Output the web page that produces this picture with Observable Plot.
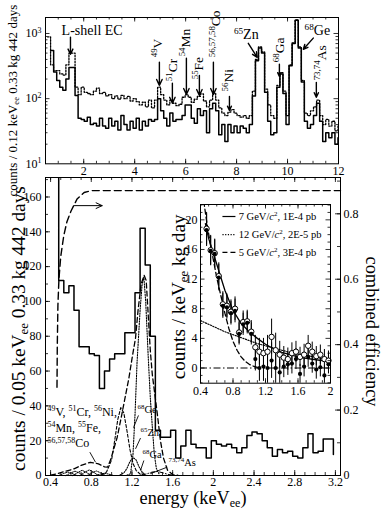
<!DOCTYPE html>
<html><head><meta charset="utf-8">
<script src="https://cdn.jsdelivr.net/npm/d3@7"></script>
<script src="https://cdn.jsdelivr.net/npm/@observablehq/plot@0.6"></script>
<style>
body{margin:0;background:#fff;}
#chart{position:relative;width:382px;height:511px;overflow:hidden;background:#fff;}
#chart svg{position:absolute;left:0;top:0;background:transparent !important;overflow:visible;font-family:"Liberation Serif","DejaVu Serif",serif !important;font-size:12px;}
#chart svg g, #chart svg text{font-family:"Liberation Serif","DejaVu Serif",serif !important;}
</style>
</head><body><div id="chart"></div>
<script>
// ================= DATA =================
// --- top panel: two spectra, 0.12 keV bins ---
const topSolidStart = 0.70;
const topDottedStart = 0.58;
const topBinWidth = 0.12;
const topSolidCounts = [550,257,190,150,135,200,300,300,112,50,
 48,45,52,40,42,38,50,38,35,50,
 38,45,33,55,40,33,45,35,50,33,
 45,38,48,45,48,100,65,50,38,60,
 45,48,48,55,80,80,50,42,70,55,
 65,30,70,85,65,28,40,22,40,30,
 38,30,38,35,30,40,110,380,600,500,
 125,45,28,30,150,240,120,40,320,700,
 1600,600,180,45,35,40,55,85,45,22,
 30,25,30,20,25];
const topDottedCounts = [890,330,270,270,240,230,330,500,500,150,
 115,150,125,120,115,130,145,120,125,110,
 115,100,110,98,112,100,108,92,100,90,
 80,88,75,95,72,95,150,115,95,80,
 95,85,78,82,105,115,105,88,98,108,
 118,92,75,95,120,95,72,60,55,62,
 68,60,55,52,55,50,55,130,400,620,
 520,140,80,55,50,160,250,130,55,330,
 720,1620,620,190,60,55,65,75,95,55,
 40,48,38,45,32,38];
const topXTicks = [2,4,6,8,10,12];
const topYTicks = [10,100,1000];
const topArrows = [
 {x1:1.48,y1:880,x2:1.48,y2:480},
 {x1:4.97,y1:362,x2:4.97,y2:160},
 {x1:5.48,y1:172,x2:5.48,y2:85},
 {x1:6.03,y1:417,x2:6.03,y2:116},
 {x1:6.54,y1:228,x2:6.54,y2:112},
 {x1:7.09,y1:362,x2:7.09,y2:116},
 {x1:7.72,y1:108,x2:7.72,y2:66},
 {x1:8.46,y1:708,x2:8.81,y2:431},
 {x1:9.68,y1:338,x2:9.68,y2:220},
 {x1:11.01,y1:850,x2:10.62,y2:572},
 {x1:11.13,y1:178,x2:11.13,y2:105}
];
const topRotLabels = [
 {t:"^{49}V", x:4.89, y:431},
 {t:"^{51}Cr", x:5.48, y:185},
 {t:"^{54}Mn", x:5.99, y:446},
 {t:"^{55}Fe", x:6.50, y:198},
 {t:"^{56,57,58}Co", x:7.17, y:431},
 {t:"^{56}Ni", x:7.68, y:129},
 {t:"^{68}Ga", x:9.68, y:362},
 {t:"^{73,74}As", x:11.32, y:191}
];
const topFlatLabels = [
 {t:"L-shell EC", x:2.33, y:942},
 {t:"^{65}Zn", x:8.38, y:817},
 {t:"^{68}Ge", x:11.17, y:942}
];

// --- bottom panel: 0.05 keV bins ---
const botStart = 0.43;
const botBinWidth = 0.05;
const botCounts = [400,112,105,109,95,74,74,70,69,50,
 60,67,70,70,82,82,105,142,121,80,
 26,22,22,26,10,17,26,18,16,16,
 10,20,18,17,18,16,13,16,23,25,
 24,20,16,11,15,13,14,11,10,16,
 24,13,14,21,21];
const botTailCount = 12;
const fitTotal = [[0.40,0.2],[0.465,1.0],[0.55,2.5],[0.63,3.8],[0.70,5.8],[0.79,7.6],[0.87,6.7],[0.93,5.0],[0.96,4.8],[0.99,9],[1.02,15],[1.055,22],[1.10,35],[1.14,47],[1.17,56],[1.20,67],[1.235,79],[1.26,95],[1.29,110],[1.32,115],[1.34,112],[1.36,92],[1.38,72],[1.40,58],[1.45,35],[1.48,20],[1.51,10],[1.55,3],[1.60,0.5],[1.65,0.2]];
const fitZn = [[0.90,0.3],[0.95,2],[1.00,9],[1.03,20],[1.06,32],[1.09,39],[1.12,36],[1.15,26],[1.18,15],[1.21,7],[1.24,3],[1.28,0.8],[1.32,0.2]];
const fitGe = [[1.15,0.2],[1.186,1],[1.21,12],[1.23,35],[1.25,65],[1.28,95],[1.30,110],[1.317,114],[1.335,100],[1.36,68],[1.38,45],[1.40,28],[1.42,12],[1.44,4],[1.47,0.5]];
const fitGa = [[1.08,0.2],[1.12,1.5],[1.15,4],[1.18,8],[1.21,10.3],[1.24,9],[1.27,5],[1.30,2],[1.33,0.5]];
const fitAs = [[1.30,0.2],[1.36,1.2],[1.40,2],[1.45,2.3],[1.50,1.6],[1.55,0.7],[1.60,0.2]];
const lowV  = [[0.48,0],[0.53,1.2],[0.57,2],[0.61,1.2],[0.66,0]];
const lowCr = [[0.55,0],[0.60,1.5],[0.64,2.5],[0.68,1.5],[0.73,0]];
const lowMn = [[0.62,0],[0.67,1.8],[0.71,3],[0.75,1.8],[0.80,0]];
const lowFe = [[0.69,0],[0.74,2],[0.78,3.2],[0.82,2],[0.87,0]];
const lowCo = [[0.76,0],[0.81,1.6],[0.85,2.6],[0.89,1.6],[0.94,0]];
const lowNi = [[0.84,0],[0.89,0.8],[0.93,1.3],[0.97,0.8],[1.02,0]];
const effCurve = [[0.463,0.27],[0.466,0.40],[0.472,0.52],[0.482,0.60],[0.50,0.67],[0.53,0.734],[0.56,0.775],[0.60,0.808],[0.66,0.845],[0.73,0.865],[0.80,0.871],[3.25,0.871]];
const effArrow = [{x1:0.628, y1:0.825, x2:0.907, y2:0.825}];
const botXTicks = [0.4,0.8,1.2,1.6,2,2.4,2.8,3.2];
const botYTicks = [0,20,40,60,80,100,120,140,160];
const effTicks = [0,0.2,0.4,0.6,0.8];
const botGroupLabels = [
 {t:"^{49}V, ^{51}Cr, ^{56}Ni,", x:0.37, y:34.4},
 {t:"^{54}Mn, ^{55}Fe,", x:0.37, y:25.2},
 {t:"^{56,57,58}Co", x:0.37, y:16.1}
];
const botPeakLabels = [
 {t:"^{68}Ge", x:1.255, y:36.1},
 {t:"^{65}Zn", x:1.284, y:22.9},
 {t:"^{68}Ga", x:1.304, y:10.3},
 {t:"^{73,74}As", x:1.56, y:5.2}
];
const botLeaders = [
 {x1:0.786,y1:13.4,x2:0.842,y2:7.6},
 {x1:1.264,y1:34.5,x2:1.215,y2:27.5},
 {x1:1.284,y1:21.5,x2:1.235,y2:15.3},
 {x1:1.317,y1:8.6,x2:1.284,y2:2.9},
 {x1:1.546,y1:4.8,x2:1.38,y2:1.0}
];

// --- inset ---
const insetStart = 0.475;
const insetBinWidth = 0.05;
const insetFilled = [18.6,15.8,15.4,12.2,8.4,8.2,7.4,7.7,4.6,5.9,6.1,4.6,1.2,0.0,0.2,0.0,1.0,0.0,-0.6,0.2,0.5,0.6,1.2,-0.8,0.2,1.5,0.6,-0.2,0.1,-1.0,0.5];
const insetFilledErr = [2.2,2.0,1.9,1.8,1.7,1.6,1.6,1.6,1.5,1.5,1.5,1.5,1.6,1.8,2.0,2.2,2.4,2.3,1.8,1.5,1.5,1.4,1.4,1.3,1.4,1.4,1.3,1.3,1.3,1.3,1.3];
const insetOpen = [18.8,15.9,15.5,12.4,8.6,8.4,7.6,8.0,4.8,6.2,6.3,4.9,2.8,2.2,2.0,2.2,4.2,2.4,1.8,1.4,1.2,2.0,2.2,1.5,1.8,3.0,2.2,1.6,1.8,1.2,1.0];
const insetOpenErr = [2.2,2.0,1.9,1.8,1.7,1.6,1.6,1.6,1.5,1.5,1.5,1.5,1.6,1.8,2.0,2.2,2.4,2.3,1.8,1.5,1.5,1.4,1.4,1.3,1.4,1.4,1.3,1.3,1.3,1.3,1.3];
const wimp7 = [[0.46,19.5],[0.5,17.5],[0.6,14],[0.7,10.5],[0.8,7.8],[0.9,6.0],[1.0,4.9],[1.1,4.0],[1.2,3.2],[1.3,2.6],[1.4,2.1],[1.5,1.8],[1.6,1.5],[1.7,1.3],[1.8,1.15],[1.9,1.0],[2.0,0.9]];
const wimp12 = [[0.4,6.4],[0.5,5.9],[0.6,5.4],[0.7,4.9],[0.8,4.5],[0.9,4.1],[1.0,3.7],[1.1,3.3],[1.2,3.0],[1.3,2.7],[1.4,2.4],[1.5,2.1],[1.6,1.9],[1.7,1.7],[1.8,1.5],[1.9,1.3],[2.0,1.2]];
const wimp5 = [[0.44,22.5],[0.48,19.5],[0.52,16.8],[0.56,14.5],[0.60,12.2],[0.65,9.8],[0.70,7.4],[0.75,5.3],[0.80,3.6],[0.85,2.4],[0.90,1.5],[0.95,0.9],[1.0,0.5],[1.05,0.25],[1.10,0.1]];
const legendLabels = ["7 GeV/*{c}^{2}, 1E-4 pb", "12 GeV/*{c}^{2}, 2E-5 pb", "5 GeV/*{c}^{2}, 3E-4 pb"];
const legendY = [20.45, 18.0, 15.6];
const insetXTicks = [0.4,0.8,1.2,1.6,2];
const insetYTicks = [0,4,8,12,16,20];

// axis titles and the length (px) each spans in the figure
const titleTopY = "counts / 0.12 keV_{ee} 0.33 kg 442 days";
const titleBotY = "counts / 0.05 keV_{ee} 0.33 kg 442 days";
const titleX = "energy (keV_{ee})";
const titleEff = "combined efficiency";
const titleInsetY = "counts / keV_{ee} kg day";
const titleSpans = [[titleTopY, 192], [titleBotY, 285], [titleX, 107], [titleEff, 150], [titleInsetY, 165]];

// ================= DRAWING =================
const W = 382, H = 511;
const fmt = d3.format("~g");
const svgStyle = `background:transparent;`;

function histPoints(start, width, counts, tail) {
  const pts = counts.map((c, i) => ({x: start + i * width, y: c}));
  const end = start + counts.length * width;
  pts.push({x: end, y: counts[counts.length - 1]});
  if (tail !== undefined) pts.push({x: end, y: tail});
  return pts;
}
function frameTicks({fw, fh, x = [], y = [], xSides = ["bottom","top"], ySides = ["left","right"]}) {
  const m = [];
  for (const [vals, len] of x) {
    if (xSides.includes("bottom")) m.push(Plot.tickX(vals, {insetTop: fh - len, strokeWidth: 0.8}));
    if (xSides.includes("top")) m.push(Plot.tickX(vals, {insetBottom: fh - len, strokeWidth: 0.8}));
  }
  for (const [vals, len] of y) {
    if (ySides.includes("left")) m.push(Plot.tickY(vals, {insetRight: fw - len, strokeWidth: 0.8}));
    if (ySides.includes("right")) m.push(Plot.tickY(vals, {insetLeft: fw - len, strokeWidth: 0.8}));
  }
  return m;
}
const px = d => d[0], py = d => d[1];
const titleOpts = {textAnchor: "middle", lineAnchor: "middle"};

// ---- bottom main panel ----
const BOT = {ml: 45, mr: 42, mt: 177, mb: 36};
const botFW = W - BOT.ml - BOT.mr, botFH = H - BOT.mt - BOT.mb;
const lowAll = [["V",lowV],["Cr",lowCr],["Mn",lowMn],["Fe",lowFe],["Co",lowCo],["Ni",lowNi]]
  .flatMap(([n, arr]) => arr.map(([x, y]) => ({x, y, n})));
const botPlot = Plot.plot({
  width: W, height: H, marginLeft: BOT.ml, marginRight: BOT.mr, marginTop: BOT.mt, marginBottom: BOT.mb,
  style: svgStyle,
  x: {domain: [0.35, 3.25]},
  y: {domain: [0, 171.2]},
  marks: [
    Plot.line(lowAll, {x: "x", y: "y", z: "n", strokeWidth: 1, strokeDasharray: "1.2,1.2"}),
    Plot.line(fitZn, {x: px, y: py, strokeWidth: 1.1, strokeDasharray: "3,2"}),
    Plot.line(fitGa, {x: px, y: py, strokeWidth: 1.1, strokeDasharray: "1.2,1.4"}),
    Plot.line(fitAs, {x: px, y: py, strokeWidth: 1, strokeDasharray: "4,2,1,2"}),
    Plot.line(fitGe, {x: px, y: py, strokeWidth: 1.1, strokeDasharray: "1.2,1.4"}),
    Plot.line(fitTotal, {x: px, y: py, strokeWidth: 1.3, strokeDasharray: "5,3"}),
    Plot.line(histPoints(botStart, botBinWidth, botCounts, botTailCount), {x: "x", y: "y", curve: "step-after", strokeWidth: 1.5, clip: true}),
    ...frameTicks({fw: botFW, fh: botFH,
      x: [[d3.range(4, 33).map(k => k / 10), 3], [botXTicks, 5]],
      y: [[d3.range(10, 171, 10), 3], [botYTicks, 5]], ySides: ["left"]}),
    Plot.frame({strokeWidth: 1}),
    Plot.axisX(botXTicks, {anchor: "bottom", tickSize: 0, tickPadding: 1.5, tickFormat: fmt, label: null}),
    Plot.axisY(botYTicks, {anchor: "left", tickSize: 0, tickPadding: 4, tickFormat: fmt, label: null}),
    Plot.link(botLeaders, {x1: "x1", y1: "y1", x2: "x2", y2: "y2", strokeWidth: 0.9}),
    Plot.text(botGroupLabels, {x: "x", y: "y", text: "t", textAnchor: "start", lineAnchor: "bottom", fontSize: 12}),
    Plot.text(botPeakLabels, {x: "x", y: "y", text: "t", textAnchor: "start", lineAnchor: "bottom", fontSize: 10.5}),
    Plot.text([titleBotY], {...titleOpts, frameAnchor: "left", rotate: -90, dx: -27, dy: 2, fontSize: 17}),
    Plot.text([titleX], {textAnchor: "middle", lineAnchor: "bottom", frameAnchor: "bottom", dy: 28.5, fontSize: 17})
  ]
});

// ---- efficiency overlay (right axis) ----
const effPlot = Plot.plot({
  width: W, height: H, marginLeft: BOT.ml, marginRight: BOT.mr, marginTop: BOT.mt, marginBottom: BOT.mb,
  style: svgStyle,
  x: {domain: [0.35, 3.25], axis: null},
  y: {domain: [0, 0.911]},
  marks: [
    Plot.line(effCurve, {x: px, y: py, strokeWidth: 1.4, strokeDasharray: "7,4"}),
    Plot.arrow(effArrow, {x1: "x1", y1: "y1", x2: "x2", y2: "y2", strokeWidth: 1, headLength: 10, headAngle: 50}),
    ...frameTicks({fw: botFW, fh: botFH, y: [[d3.range(1, 10).map(k => k / 10), 3], [effTicks, 5]], ySides: ["right"]}),
    Plot.axisY(effTicks, {anchor: "right", tickSize: 0, tickPadding: 3, tickFormat: fmt, label: null}),
    Plot.text([titleEff], {...titleOpts, frameAnchor: "right", rotate: 90, dx: 31.5, dy: 5, fontSize: 17})
  ]
});

// ---- inset ----
const INS = {ml: 200, mr: 52, mt: 204, mb: 128.3};
const insFW = W - INS.ml - INS.mr, insFH = H - INS.mt - INS.mb;
const filledPts = insetFilled.map((v, i) => ({x: insetStart + i * insetBinWidth, y: v, e: insetFilledErr[i]}));
const openPts = insetOpen.map((v, i) => ({x: insetStart + i * insetBinWidth, y: v, e: insetOpenErr[i]}));
const legendRows = legendLabels.map((t, i) => ({t, y: legendY[i]}));
const insetPlot = Plot.plot({
  width: W, height: H, marginLeft: INS.ml, marginRight: INS.mr, marginTop: INS.mt, marginBottom: INS.mb,
  style: svgStyle,
  x: {domain: [0.4, 2]},
  y: {domain: [-2.05, 22.07]},
  marks: [
    Plot.frame({fill: "white", stroke: null}),
    Plot.ruleY([0], {strokeWidth: 1, strokeDasharray: "7,2.5,1.5,2.5"}),
    Plot.line(wimp12, {x: px, y: py, strokeWidth: 1.2, strokeDasharray: "1.2,1.5"}),
    Plot.line(wimp5, {x: px, y: py, strokeWidth: 1.3, strokeDasharray: "5,3", clip: true}),
    Plot.line(wimp7, {x: px, y: py, strokeWidth: 1.3, clip: true}),
    Plot.ruleX(openPts, {x: "x", y1: d => d.y - d.e, y2: d => d.y + d.e, strokeWidth: 1, clip: true}),
    Plot.ruleX(filledPts, {x: "x", y1: d => d.y - d.e, y2: d => d.y + d.e, strokeWidth: 1, clip: true}),
    Plot.dot(openPts, {x: "x", y: "y", r: 2.7, fill: "white", stroke: "black", strokeWidth: 1}),
    Plot.dot(filledPts, {x: "x", y: "y", r: 2.1, fill: "black", stroke: null}),
    Plot.link(legendRows.slice(0, 1), {x1: 0.67, x2: 0.83, y1: "y", y2: "y", strokeWidth: 1.2}),
    Plot.link(legendRows.slice(1, 2), {x1: 0.67, x2: 0.83, y1: "y", y2: "y", strokeWidth: 1.2, strokeDasharray: "1.2,1.5"}),
    Plot.link(legendRows.slice(2, 3), {x1: 0.67, x2: 0.83, y1: "y", y2: "y", strokeWidth: 1.2, strokeDasharray: "5,3"}),
    Plot.text(legendRows, {x: 0.87, y: "y", text: "t", textAnchor: "start", fontSize: 10.5}),
    ...frameTicks({fw: insFW, fh: insFH,
      x: [[d3.range(5, 20).map(k => k / 10), 2.5], [insetXTicks.slice(1, -1), 4.5]],
      y: [[d3.range(-2, 23).filter(k => k % 4 !== 0), 2.5], [insetYTicks, 4.5]]}),
    Plot.frame({strokeWidth: 1}),
    Plot.axisX(insetXTicks, {anchor: "bottom", tickSize: 0, tickPadding: 3, tickFormat: fmt, label: null}),
    Plot.axisY(insetYTicks, {anchor: "left", tickSize: 0, tickPadding: 3, tickFormat: fmt, label: null}),
    Plot.text([titleInsetY], {...titleOpts, frameAnchor: "left", rotate: -90, dx: -22, dy: 3, fontSize: 17})
  ]
});

// ---- top panel ----
const TOP = {ml: 45, mr: 44, mt: 17, mb: 36.7, h: 200};
const topFW = W - TOP.ml - TOP.mr, topFH = TOP.h - TOP.mt - TOP.mb;
const topMinorY = [20,30,40,50,60,70,80,90,200,300,400,500,600,700,800,900];
const topPlot = Plot.plot({
  width: W, height: TOP.h, marginLeft: TOP.ml, marginRight: TOP.mr, marginTop: TOP.mt, marginBottom: TOP.mb,
  style: svgStyle,
  x: {domain: [0.5, 12]},
  y: {type: "log", domain: [10, 1760]},
  marks: [
    Plot.line(histPoints(topDottedStart, topBinWidth, topDottedCounts), {x: "x", y: "y", curve: "step-after", strokeWidth: 1.3, strokeDasharray: "1.5,1.5", clip: true}),
    Plot.line(histPoints(topSolidStart, topBinWidth, topSolidCounts), {x: "x", y: "y", curve: "step-after", strokeWidth: 1.5, clip: true}),
    ...frameTicks({fw: topFW, fh: topFH,
      x: [[d3.range(1, 24).map(k => k / 2), 2.5], [topXTicks.slice(0, -1), 4.5]],
      y: [[topMinorY, 2.5], [topYTicks.slice(1), 4.5]]}),
    Plot.frame({strokeWidth: 1}),
    Plot.axisX(topXTicks, {anchor: "bottom", tickSize: 0, tickPadding: 3, tickFormat: fmt, label: null}),
    Plot.axisY(topYTicks, {anchor: "left", tickSize: 0, tickPadding: 4, tickFormat: d => "10^{" + Math.round(Math.log10(d)) + "}", label: null}),
    Plot.arrow(topArrows, {x1: "x1", y1: "y1", x2: "x2", y2: "y2", strokeWidth: 1.4, headLength: 7, headAngle: 50}),
    Plot.text(topRotLabels, {x: "x", y: "y", text: "t", rotate: -90, textAnchor: "start", lineAnchor: "middle", fontSize: 13.5}),
    Plot.text(topFlatLabels, {x: "x", y: "y", text: "t", textAnchor: "middle", lineAnchor: "bottom", fontSize: 14}),
    Plot.text([titleTopY], {...titleOpts, frameAnchor: "left", rotate: -90, dx: -33, dy: 10, fontSize: 12.5})
  ]
});

const chart = document.getElementById("chart");
[botPlot, effPlot, insetPlot, topPlot].forEach(s => chart.appendChild(s));

// rich text: ^{sup}, _{sub}, *{italic}; optional fit to a target span
const SUP = 0.66;
function richify(root) {
  const NS = "http://www.w3.org/2000/svg";
  const spans = new Map(titleSpans);
  root.querySelectorAll("text").forEach(t => {
    const s = t.textContent;
    const target = spans.get(s);
    if (!/[\^_*]\{/.test(s) && !target) return;
    let fs = parseFloat(getComputedStyle(t).fontSize) || 12;
    const build = () => {
      while (t.firstChild) t.removeChild(t.firstChild);
      let off = 0;
      const add = (txt, mode) => {
        if (!txt) return;
        const sp = document.createElementNS(NS, "tspan");
        let tgt = 0;
        if (mode === "^") { tgt = -0.38 * fs; sp.setAttribute("font-size", (SUP * fs).toFixed(2)); }
        else if (mode === "_") { tgt = 0.17 * fs; sp.setAttribute("font-size", (SUP * fs).toFixed(2)); }
        else if (mode === "*") sp.setAttribute("font-style", "italic");
        if (tgt !== off) { sp.setAttribute("dy", (tgt - off).toFixed(2)); off = tgt; }
        sp.textContent = txt;
        t.appendChild(sp);
      };
      const re = /([\^_*])\{([^}]*)\}/g;
      let last = 0, m;
      while ((m = re.exec(s))) { add(s.slice(last, m.index), ""); add(m[2], m[1]); last = re.lastIndex; }
      add(s.slice(last), "");
    };
    build();
    if (target) {
      const len = t.getComputedTextLength();
      if (len > 0) {
        fs = fs * target / len;
        t.style.fontSize = fs.toFixed(2) + "px";
        build();
      }
    }
  });
}
richify(chart);
</script>
</body></html>
